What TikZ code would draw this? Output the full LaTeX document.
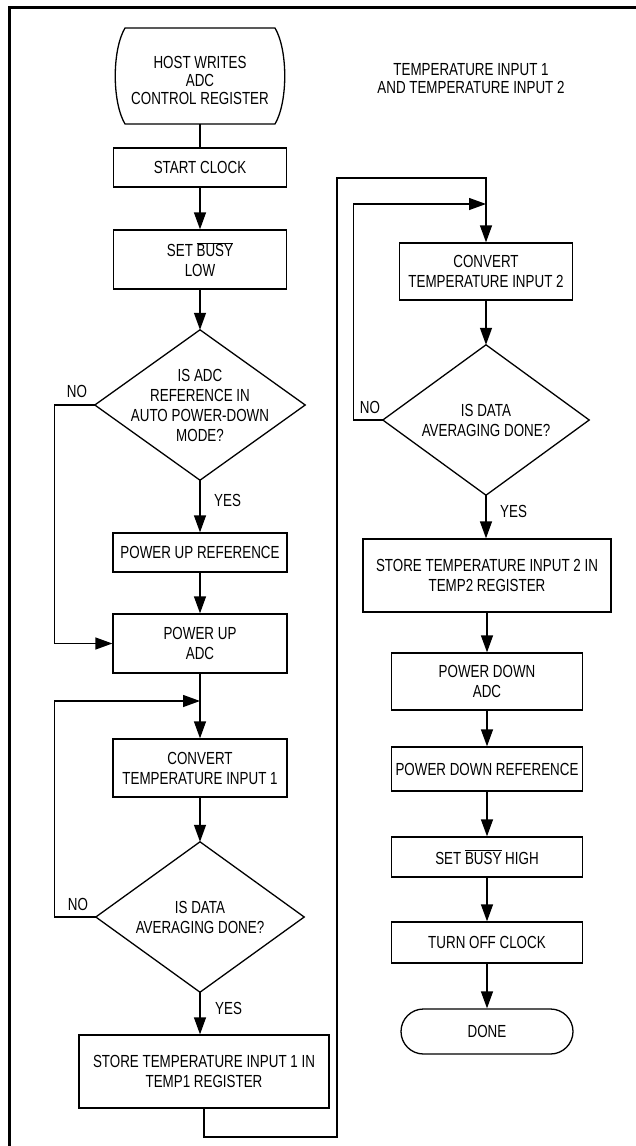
\documentclass[tikz,border=0pt]{standalone}
\usepackage{fontspec}
\setmainfont{Liberation Sans}[FakeStretch=0.765]
\usetikzlibrary{arrows.meta,calc}
\begin{document}
\begin{tikzpicture}[x=1pt,y=-1pt,
  every node/.style={font=\fontsize{17.5}{20}\selectfont, inner sep=0pt, align=center},
  box/.style={draw, line width=1.3pt},
  plain/.style={draw=none},
  ln/.style={line width=1.3pt},
  arr/.style={line width=1.3pt, -{Triangle[length=17pt,width=12pt]}},
  lbl/.style={font=\fontsize{17.5}{20}\selectfont}]
\useasboundingbox (0,0) rectangle (636,1146);
\fill[white] (0,0) rectangle (636,1146);
% frame (left and top)
\draw[line width=3pt] (9.5,1146) -- (9.5,7) -- (636,7);

% ---------- left column ----------
\node[plain, font=\fontsize{17.5}{18}\selectfont] (host) at (200,80) {HOST WRITES\\ADC\\CONTROL REGISTER};
\draw[ln] ($(host.center)+(-75,-52)$) -- ($(host.center)+(75,-52)$)
  .. controls ($(host.center)+(88,-30)$) and ($(host.center)+(88,22)$) .. ($(host.center)+(75,44)$)
  -- ($(host.center)+(-75,44)$)
  .. controls ($(host.center)+(-88,22)$) and ($(host.center)+(-88,-30)$) .. cycle;
\coordinate (hostb) at ($(host.center)+(0,44)$);

\node[box, minimum width=173, minimum height=39] (start) at (200,167.5) {START CLOCK};
\node[box, minimum width=173, minimum height=59] (busy) at (200,259.5) {SET $\overline{\hbox{BUSY}}$\\LOW};
\node[plain, minimum width=210, minimum height=150] (d1) at (200,405) {IS ADC\\REFERENCE IN\\AUTO POWER-DOWN\\MODE?};
\draw[ln] (d1.north) -- (d1.east) -- (d1.south) -- (d1.west) -- cycle;
\node[box, minimum width=174, minimum height=39] (pref) at (200,552.5) {POWER UP REFERENCE};
\node[box, minimum width=174, minimum height=59] (padc) at (200,643.5) {POWER UP\\ADC};
\node[box, minimum width=174, minimum height=58] (conv1) at (200,768) {CONVERT\\TEMPERATURE INPUT 1};
\node[plain, minimum width=208, minimum height=150] (d2) at (200,917) {IS DATA\\AVERAGING DONE?};
\draw[ln] (d2.north) -- (d2.east) -- (d2.south) -- (d2.west) -- cycle;
\node[box, minimum width=250, minimum height=73] (store1) at (204,1071.5) {STORE TEMPERATURE INPUT 1 IN\\TEMP1 REGISTER};

\coordinate (j1) at (200,701);

\draw[ln] (hostb) -- (start.north);
\draw[arr] (start) -- (busy);
\draw[arr] (busy) -- (d1.north);
\draw[arr] (d1.south) -- (pref.north);
\draw[arr] (pref) -- (padc);
\draw[arr] (d1.west) -- ++(-40,0) |- (padc.west);
\draw[arr] (padc) -- (conv1);
\draw[arr] (d2.west) -- ++(-41,0) |- (j1);
\draw[arr] (conv1) -- (d2.north);
\draw[arr] (d2.south) -- (d2.south |- store1.north);

\node[lbl] (no1) at (77,391) {NO};
\node[lbl, anchor=west] (yes1) at (214,500) {YES};
\node[lbl] (no2) at (78,904) {NO};
\node[lbl, anchor=west] (yes2) at (215,1008) {YES};

% ---------- right column ----------
\node[plain, font=\fontsize{17.5}{18}\selectfont] (title) at (471,79) {TEMPERATURE INPUT 1\\AND TEMPERATURE INPUT 2};
\node[box, minimum width=173, minimum height=57] (conv2) at (486,271.5) {CONVERT\\TEMPERATURE INPUT 2};
\node[plain, minimum width=206, minimum height=150] (d3) at (486,420) {IS DATA\\AVERAGING DONE?};
\draw[ln] (d3.north) -- (d3.east) -- (d3.south) -- (d3.west) -- cycle;
\node[box, minimum width=248, minimum height=73] (store2) at (487,575.5) {STORE TEMPERATURE INPUT 2 IN\\TEMP2 REGISTER};
\node[box, minimum width=191, minimum height=57] (pdadc) at (487,681.5) {POWER DOWN\\ADC};
\node[box, minimum width=191, minimum height=44] (pdref) at (487,769) {POWER DOWN REFERENCE};
\node[box, minimum width=191, minimum height=40] (bhigh) at (487,857) {SET $\overline{\hbox{BUSY}}$ HIGH};
\node[box, minimum width=191, minimum height=41] (off) at (487,942.5) {TURN OFF CLOCK};
\node[box, minimum width=172, minimum height=45, rounded corners=22.5pt] (done) at (487,1031.5) {DONE};

\coordinate (j2) at (486,204);
\coordinate (top) at (486,178);
\coordinate (lowc) at (337,1137);

\draw[arr] (store1.south) |- (lowc) |- (top) -- (conv2.north);
\draw[arr] (d3.west) -- ++(-29,0) |- (j2);
\draw[arr] (conv2.south) -- (d3.north);
\draw[arr] (d3.south) -- (d3.south |- store2.north);
\draw[arr] (store2) -- (pdadc);
\draw[arr] (pdadc) -- (pdref);
\draw[arr] (pdref) -- (bhigh);
\draw[arr] (bhigh) -- (off);
\draw[arr] (off) -- (done);

\node[lbl] (no3) at (370,407) {NO};
\node[lbl, anchor=west] (yes3) at (500,511) {YES};
\end{tikzpicture}
\end{document}
